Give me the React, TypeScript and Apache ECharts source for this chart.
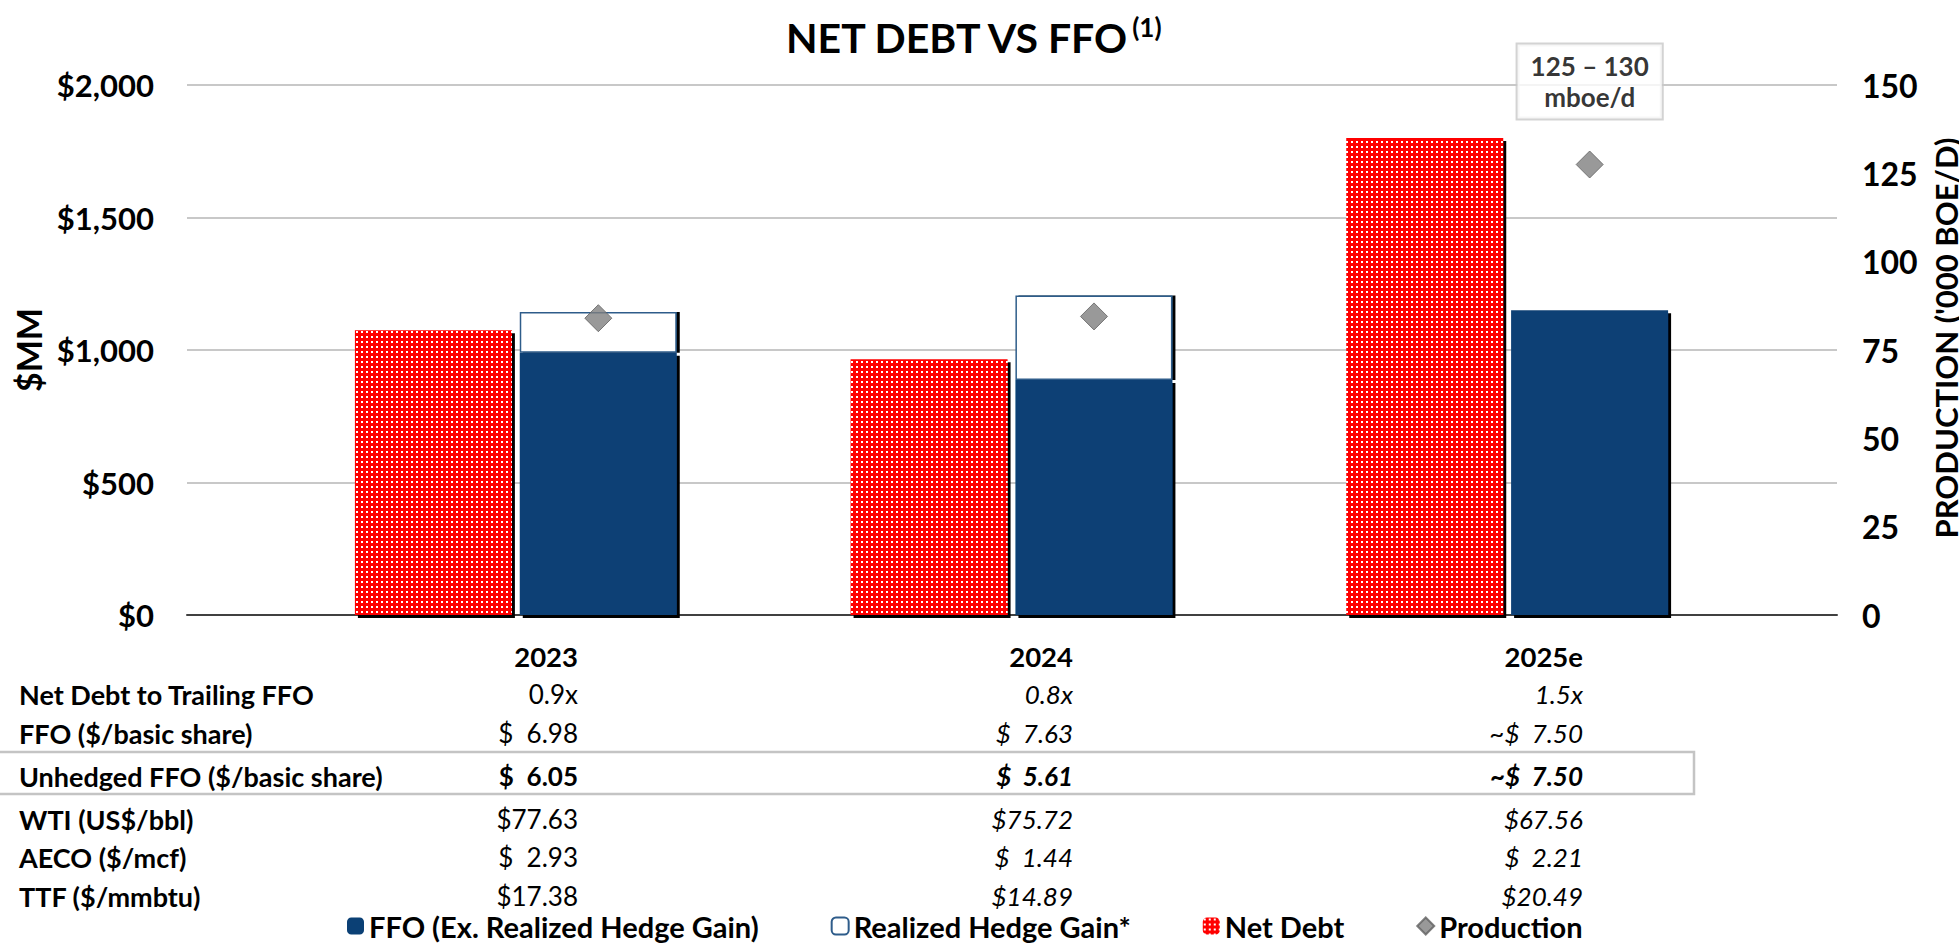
import React, { useEffect, useRef } from 'react';
import * as echarts from 'echarts';

// ---- data ----
const categories = ['2023', '2024', '2025e'];
const netDebt = [1075, 965, 1800];
const ffoExHedge = [990, 887, 1150];
const hedgeGain = [153, 319, 0];
const production = [84, 84.5, 127.5];
const productionGuidance = '125 – 130\nmboe/d';

const leftTickMax = 2000;
const leftTickStep = 500;
const rightTickMax = 150;
const rightTickStep = 25;

const rowLabels = [
  'Net Debt to Trailing FFO',
  'FFO ($/basic share)',
  'Unhedged FFO ($/basic share)',
  'WTI (US$/bbl)',
  'AECO ($/mcf)',
  'TTF ($/mmbtu)',
];
const col2023 = ['0.9x', '$  6.98', '$  6.05', '$77.63', '$  2.93', '$17.38'];
const col2024 = ['0.8x', '$  7.63', '$  5.61', '$75.72', '$  1.44', '$14.89'];
const col2025 = ['1.5x', '~$  7.50', '~$  7.50', '$67.56', '$  2.21', '$20.49'];

const legendNames = ['FFO (Ex. Realized Hedge Gain)', 'Realized Hedge Gain*', 'Net Debt', 'Production'];

// ---- style / layout ----
const F = 'Lato, "Open Sans", sans-serif';
const BLUE = '#0B4075';
const RED = '#FF0000';
const GRID_TOP = 85;
const GRID_BOTTOM = 944 - 615;
const headerY = 656;
const rowY = [694, 733, 776, 819, 857, 896];
const colRight = [578, 1073, 1583];

function makeDotPattern(): any {
  const c = document.createElement('canvas');
  c.width = 5;
  c.height = 5;
  const ctx = c.getContext('2d');
  if (ctx) {
    ctx.fillStyle = RED;
    ctx.fillRect(0, 0, 5, 5);
    ctx.fillStyle = '#ffffff';
    ctx.fillRect(1, 1, 2, 2);
  }
  return c;
}

function txt(x: number, y: number, text: string, o: any = {}) {
  return {
    type: 'text',
    x,
    y,
    silent: true,
    style: {
      text,
      fill: '#000',
      fontFamily: F,
      fontSize: o.size || 26,
      fontWeight: o.bold ? 'bold' : 'normal',
      fontStyle: o.italic ? 'italic' : 'normal',
      align: o.align || 'right',
      verticalAlign: 'middle',
    },
  };
}

function buildGraphics() {
  const g: any[] = [];
  categories.forEach((c, i) => g.push(txt(colRight[i], headerY, c, { bold: true, size: 27.5 })));
  rowLabels.forEach((l, r) => g.push(txt(19, rowY[r], l, { bold: true, size: 27, align: 'left' })));
  [col2023, col2024, col2025].forEach((col, i) => {
    col.forEach((v, r) =>
      g.push(txt(colRight[i], rowY[r], v, { bold: r === 2, italic: i > 0, size: 26 }))
    );
  });
  g.push({
    type: 'rect',
    silent: true,
    shape: { x: -4, y: 752, width: 1698, height: 42 },
    style: { fill: 'none', stroke: '#C4C4C4', lineWidth: 2.5 },
  });
  return g;
}

const barShadow = { shadowColor: '#000', shadowBlur: 0, shadowOffsetX: 3, shadowOffsetY: 3 };

function buildOption(): any {
  const dots = makeDotPattern();
  const gridBase = { top: GRID_TOP, bottom: GRID_BOTTOM, outerBoundsMode: 'none', containLabel: false };
  return {
    animation: false,
    backgroundColor: '#fff',
    title: {
      text: '{m|NET DEBT VS FFO}{s|(1)}',
      left: 786,
      top: 12,
      padding: 0,
      textStyle: {
        rich: {
          m: { fontFamily: F, fontSize: 41, fontWeight: 'bold', color: '#000', lineHeight: 50 },
          s: { fontFamily: F, fontSize: 26, fontWeight: 'bold', color: '#000', verticalAlign: 'top', lineHeight: 28, padding: [2, 0, 0, 1] },
        },
      },
    },
    legend: {
      left: 347,
      top: 911,
      padding: 0,
      itemWidth: 17,
      itemHeight: 17,
      itemGap: 72,
      data: legendNames,
      textStyle: { fontFamily: F, fontSize: 29, fontWeight: 'bold', color: '#000', lineHeight: 30 },
      itemStyle: { shadowBlur: 0, shadowOffsetX: 0, shadowOffsetY: 0, shadowColor: 'rgba(0,0,0,0)' },
    },
    grid: [
      { ...gridBase, left: 187, right: 1959 - 1837 },
      { ...gridBase, left: 268, right: 1959 - 1755 },
      { ...gridBase, left: 268 + 82.5, right: 1959 - 1755 - 82.5 },
    ],
    xAxis: [
      {
        type: 'category',
        gridIndex: 0,
        data: categories,
        axisLine: { show: true, lineStyle: { color: '#404040', width: 2 } },
        axisTick: { show: false },
        axisLabel: { show: false },
      },
      { type: 'category', gridIndex: 1, data: categories, show: false },
      { type: 'category', gridIndex: 2, data: categories, show: false },
    ],
    yAxis: [
      {
        type: 'value',
        gridIndex: 0,
        min: 0,
        max: leftTickMax,
        interval: leftTickStep,
        name: '$MM',
        nameLocation: 'middle',
        nameRotate: 90,
        nameGap: 135,
        nameTextStyle: { fontFamily: F, fontSize: 34, fontWeight: 'bold', color: '#000' },
        axisLine: { show: false },
        axisTick: { show: false },
        axisLabel: {
          margin: 33,
          fontFamily: F,
          fontSize: 31,
          fontWeight: 'bold',
          color: '#000',
          formatter: (v: number) => '$' + v.toLocaleString('en-US'),
        },
        splitLine: { show: true, lineStyle: { color: '#C8C8C8', width: 2 } },
      },
      {
        type: 'value',
        gridIndex: 0,
        position: 'right',
        min: 0,
        max: rightTickMax,
        interval: rightTickStep,
        name: "PRODUCTION ('000 BOE/D)",
        nameLocation: 'middle',
        nameRotate: 90,
        nameGap: 66,
        nameTextStyle: { fontFamily: F, fontSize: 31, fontWeight: 'bold', color: '#000', lineHeight: 34, padding: [0, 0, 0, 24] },
        axisLine: { show: false },
        axisTick: { show: false },
        splitLine: { show: false },
        axisLabel: { margin: 25, fontFamily: F, fontSize: 32, fontWeight: 'bold', color: '#000' },
      },
      { type: 'value', gridIndex: 1, min: 0, max: leftTickMax, show: false },
      { type: 'value', gridIndex: 2, min: 0, max: rightTickMax, show: false },
    ],
    series: [
      {
        name: 'Net Debt',
        type: 'bar',
        xAxisIndex: 1,
        yAxisIndex: 2,
        data: netDebt,
        barWidth: 157,
        barGap: '5%',
        itemStyle: {
          color: { image: dots, repeat: 'repeat' },
          ...barShadow,
        },
      },
      {
        name: 'FFO (Ex. Realized Hedge Gain)',
        type: 'bar',
        xAxisIndex: 1,
        yAxisIndex: 2,
        stack: 'ffo',
        data: ffoExHedge,
        barWidth: 157,
        barGap: '5%',
        itemStyle: { color: BLUE, ...barShadow },
      },
      {
        name: 'Realized Hedge Gain*',
        type: 'bar',
        xAxisIndex: 1,
        yAxisIndex: 2,
        stack: 'ffo',
        data: hedgeGain,
        barWidth: 157,
        barGap: '5%',
        itemStyle: {
          color: '#ffffff',
          borderColor: '#2E5C8A',
          borderWidth: 1.5,
          shadowColor: '#000',
          shadowBlur: 0,
          shadowOffsetX: 3,
          shadowOffsetY: 0,
        },
      },
      {
        name: 'Production',
        type: 'scatter',
        xAxisIndex: 2,
        yAxisIndex: 3,
        symbol: 'diamond',
        symbolSize: 27,
        z: 5,
        itemStyle: { color: '#808080', borderColor: '#606060', borderWidth: 1 },
        data: production.map((v, i) =>
          i === production.length - 1
            ? {
                value: v,
                label: {
                  show: true,
                  position: 'top',
                  distance: 32,
                  formatter: productionGuidance,
                  fontFamily: F,
                  fontSize: 26,
                  fontWeight: 'bold',
                  color: '#000',
                  lineHeight: 31,
                  backgroundColor: '#fff',
                  borderColor: '#C8C8C8',
                  borderWidth: 2,
                  padding: [6, 13],
                  align: 'center',
                },
              }
            : v
        ),
      },
    ],
    graphic: buildGraphics(),
  };
}

export default function App() {
  const ref = useRef<HTMLDivElement>(null);
  useEffect(() => {
    document.body.style.margin = '0';
    if (!ref.current) return;
    const chart = echarts.init(ref.current, null, { renderer: 'svg' });
    chart.setOption(buildOption());
    return () => chart.dispose();
  }, []);
  return <div ref={ref} style={{ width: 1959, height: 944 }} />;
}
